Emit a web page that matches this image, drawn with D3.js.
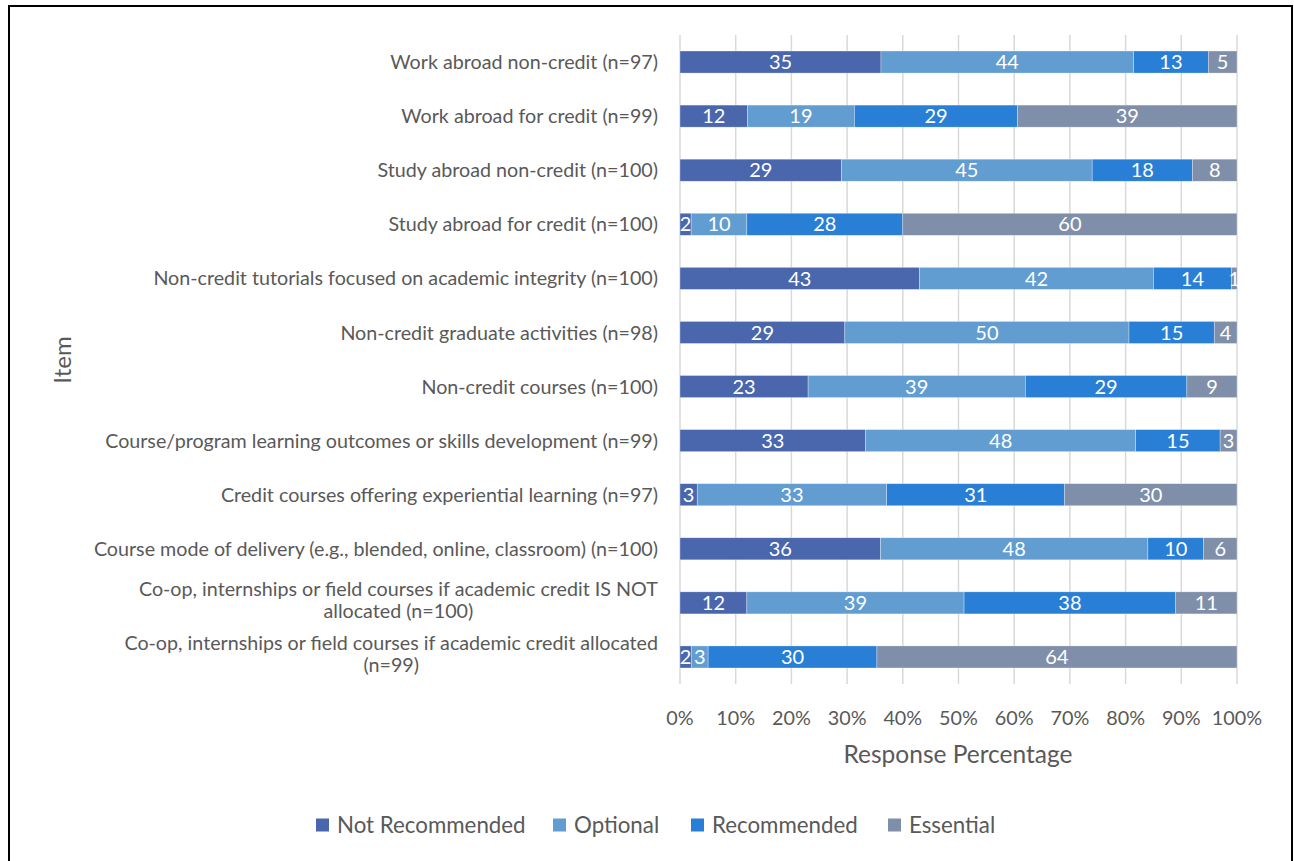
<!DOCTYPE html>
<html>
<head>
<meta charset="utf-8">
<script src="https://cdn.jsdelivr.net/npm/d3@7"></script>
<style>
  html, body { margin: 0; padding: 0; background: #fff; }
  svg { display: block; }
  text { font-family: "Lato", "Open Sans", sans-serif; }
</style>
</head>
<body>
<svg id="chart" width="1294" height="861"></svg>
<script>
// ---- data ----
const categories = [
  "Work abroad non-credit (n=97)",
  "Work abroad for credit (n=99)",
  "Study abroad non-credit (n=100)",
  "Study abroad for credit (n=100)",
  "Non-credit tutorials focused on academic integrity (n=100)",
  "Non-credit graduate activities (n=98)",
  "Non-credit courses (n=100)",
  "Course/program learning outcomes or skills development (n=99)",
  "Credit courses offering experiential learning (n=97)",
  "Course mode of delivery (e.g., blended, online, classroom) (n=100)",
  "Co-op, internships or field courses if academic credit IS NOT|allocated (n=100)",
  "Co-op, internships or field courses if academic credit allocated|(n=99)"
];
const seriesNames = ["Not Recommended", "Optional", "Recommended", "Essential"];
const notRecommended = [35, 12, 29, 2, 43, 29, 23, 33, 3, 36, 12, 2];
const optional       = [44, 19, 45, 10, 42, 50, 39, 48, 33, 48, 39, 3];
const recommended    = [13, 29, 18, 28, 14, 15, 29, 15, 31, 10, 38, 30];
const essential      = [5, 39, 8, 60, 1, 4, 9, 3, 30, 6, 11, 64];
const tickValues = [0, 0.1, 0.2, 0.3, 0.4, 0.5, 0.6, 0.7, 0.8, 0.9, 1.0];
const colors = ["#4A66AC", "#629DD1", "#297FD5", "#7F8FA9"];

const rows = categories.map((c, i) => ({
  cat: c,
  "Not Recommended": notRecommended[i],
  "Optional": optional[i],
  "Recommended": recommended[i],
  "Essential": essential[i]
}));

const svg = d3.select("#chart");

// outer frame
svg.append("rect").attr("x", 9).attr("y", 6).attr("width", 1283).attr("height", 870)
  .attr("fill", "none").attr("stroke", "#000").attr("stroke-width", 2);

const x = d3.scaleLinear().domain([0, 1]).range([680, 1237]);
const y = d3.scaleBand().domain(categories).range([35, 684]).paddingInner(0.592).paddingOuter(0.296);
const color = d3.scaleOrdinal().domain(seriesNames).range(colors);

// gridlines
svg.append("g").selectAll("line").data(tickValues).join("line")
  .attr("x1", d => x(d)).attr("x2", d => x(d))
  .attr("y1", 35).attr("y2", 684)
  .attr("stroke", "#d9d9d9").attr("stroke-width", 1.5);

const stack = d3.stack().keys(seriesNames).offset(d3.stackOffsetExpand);
const series = stack(rows);

const gSeries = svg.append("g").selectAll("g").data(series).join("g")
  .attr("fill", d => color(d.key));

gSeries.selectAll("rect").data(d => d).join("rect")
  .attr("x", d => x(d[0]))
  .attr("y", d => y(d.data.cat))
  .attr("width", d => x(d[1]) - x(d[0]))
  .attr("height", y.bandwidth())
  .attr("stroke", "#fff").attr("stroke-width", 0.6).attr("stroke-opacity", 0.5);

// data labels
series.forEach(s => {
  svg.append("g").selectAll("text").data(s).join("text")
    .attr("x", d => (x(d[0]) + x(d[1])) / 2)
    .attr("y", d => y(d.data.cat) + y.bandwidth() / 2)
    .attr("dy", "0.36em")
    .attr("text-anchor", "middle")
    .attr("fill", "#fff")
    .attr("font-size", 20)
    .text(d => d.data[s.key]);
});

// category labels
const catG = svg.append("g");
categories.forEach(c => {
  const lines = c.split("|");
  const cy = y(c) + y.bandwidth() / 2;
  const t = catG.append("text")
    .attr("fill", "#595959").attr("font-size", 19.7);
  if (lines.length === 1) {
    t.attr("x", 658).attr("y", cy).attr("dy", "0.36em").attr("text-anchor", "end").text(lines[0]);
  } else {
    t.attr("text-anchor", "middle");
    const lh = 21.5;
    lines.forEach((ln, k) => {
      t.append("tspan").attr("x", 0).attr("y", cy + (k - (lines.length - 1) / 2) * lh - 3)
        .attr("dy", "0.36em").text(ln);
    });
    const w = t.node().getBBox().width;
    t.selectAll("tspan").attr("x", 658 - w / 2);
  }
});

// x axis tick labels
svg.append("g").selectAll("text").data(tickValues).join("text")
  .attr("x", d => x(d)).attr("y", 718).attr("dy", "0.36em")
  .attr("text-anchor", "middle").attr("fill", "#595959").attr("font-size", 19.8)
  .text(d => d3.format(".0%")(d));

// axis titles
svg.append("text").attr("x", 958).attr("y", 754).attr("dy", "0.36em")
  .attr("text-anchor", "middle").attr("fill", "#595959").attr("font-size", 24.5)
  .text("Response Percentage");
svg.append("text").attr("transform", "translate(62,360) rotate(-90)").attr("dy", "0.36em")
  .attr("text-anchor", "middle").attr("fill", "#595959").attr("font-size", 24)
  .text("Item");

// legend
const legendX = [316, 553, 691, 888];
const lg = svg.append("g").selectAll("g").data(seriesNames).join("g")
  .attr("transform", (d, i) => `translate(${legendX[i]},825)`);
lg.append("rect").attr("x", 0).attr("y", -6.5).attr("width", 13).attr("height", 13)
  .attr("fill", d => color(d));
lg.append("text").attr("x", 21).attr("y", 0).attr("dy", "0.36em")
  .attr("fill", "#595959").attr("font-size", 22.3).text(d => d);
</script>
</body>
</html>
